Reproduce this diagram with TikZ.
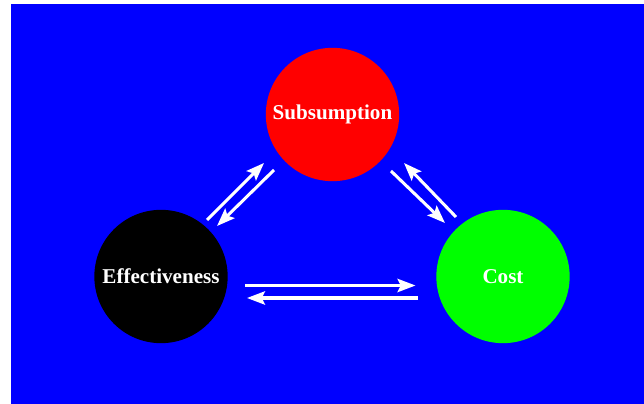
\documentclass[tikz,border=0pt]{standalone}
\usepackage{fontspec}
\setmainfont{Liberation Serif}
\usetikzlibrary{arrows.meta}

\begin{document}
\begin{tikzpicture}[
  x=0.03cm, y=-0.03cm,
  font=\bfseries\fontsize{18}{21}\selectfont, >={Stealth[length=5.4mm,width=4mm,inset=1mm]}, line width=2.6pt,
  topic/.style={circle, minimum size=4cm, inner sep=0pt, text=white},
  flow/.style={->, draw=white}
]

\useasboundingbox (0,0) rectangle (644,404);
\fill[blue] (11,4) rectangle (644,404);

\node[topic, fill=red] (sub) at (332.5,114.5) {Subsumption};
\node[topic, fill=black] (eff) at (161,276.5) {Effectiveness};
\node[topic, fill=green] (cost) at (503,276.5) {Cost};

\draw[flow] ([shift={(46,-56.5)}]eff.center) -- ([shift={(-68.5,48.5)}]sub.center);
\draw[flow] ([shift={(-58.5,55.5)}]sub.center) -- ([shift={(56,-50.5)}]eff.center);
\draw[flow] ([shift={(58.5,56.5)}]sub.center) -- ([shift={(-58,-53.5)}]cost.center);
\draw[flow] ([shift={(-47,-59.5)}]cost.center) -- ([shift={(71.5,48.5)}]sub.center);
\draw[flow] ([shift={(84,9)}]eff.center) -- ([shift={(-87.5,9)}]cost.center);
\draw[flow] ([shift={(-85,21.5)}]cost.center) -- ([shift={(86,21.5)}]eff.center);

\end{tikzpicture}
\end{document}
